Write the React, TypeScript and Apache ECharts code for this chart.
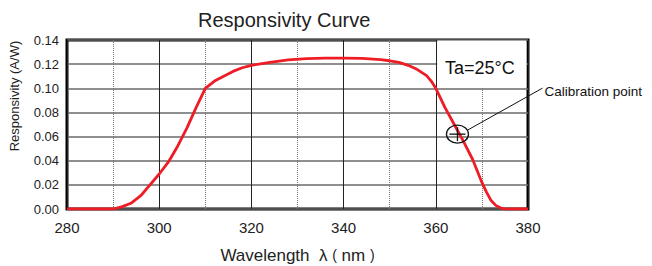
import React, { useEffect, useRef } from "react";
import * as echarts from "echarts";

const wavelengths = [
  280, 285, 290, 292, 294, 296, 298, 300, 302, 304, 306, 308, 310,
  312, 314, 316, 318, 320, 324, 328, 332, 336, 340, 344, 348, 350,
  352, 354, 356, 358, 359, 360, 362, 364, 366, 368, 370, 371, 372, 373, 374, 375, 380,
];
const responsivity = [
  0, 0, 0, 0.002, 0.005, 0.011, 0.02, 0.029, 0.039, 0.052, 0.067, 0.084, 0.1,
  0.106, 0.11, 0.114, 0.117, 0.119, 0.1215, 0.1235, 0.1245, 0.125, 0.125, 0.1247, 0.1238, 0.1228,
  0.1215, 0.119, 0.1155, 0.1105, 0.106, 0.1, 0.084, 0.07, 0.056, 0.041, 0.022, 0.014, 0.007, 0.003, 0.001, 0, 0,
];
const calibrationPoint = [364.7, 0.062];
const xTicks = [280, 300, 320, 340, 360, 380];
const yTicks = [0, 0.02, 0.04, 0.06, 0.08, 0.1, 0.12, 0.14];
const titleText = "Responsivity Curve";
const xName = "Wavelength  λ {p|(} nm {p|)}";
const yName = "Responsivity (A/W)";
const tempLabel = "Ta=25°C";
const calibLabel = "Calibration point";

const FONT = "Liberation Sans, Arial, sans-serif";

export default function App() {
  const ref = useRef<HTMLDivElement>(null);
  useEffect(() => {
    if (!ref.current) return;
    const chart = echarts.init(ref.current, undefined, { renderer: "svg" });
    const lineData = wavelengths.map((w, i) => [w, responsivity[i]]);
    chart.setOption({
      animation: false,
      backgroundColor: "#fff",
      title: {
        text: titleText,
        left: 193,
        top: 5,
        textStyle: { fontFamily: FONT, fontSize: 20, fontWeight: "normal", color: "#222" },
      },
      grid: {
        left: 67,
        right: 124,
        top: 40,
        bottom: 57,
        containLabel: false,
        outerBoundsMode: "none",
        show: true,
        borderColor: "#000",
        borderWidth: 3,
        backgroundColor: "transparent",
      },
      xAxis: {
        type: "value",
        min: xTicks[0],
        max: xTicks[xTicks.length - 1],
        interval: 20,
        name: xName,
        nameLocation: "middle",
        nameGap: 37,
        nameTextStyle: {
          fontFamily: FONT,
          fontSize: 17,
          lineHeight: 18,
          color: "#222",
          rich: { p: { fontFamily: FONT, fontSize: 14, lineHeight: 18, color: "#222" } },
        },
        axisLine: { show: false },
        axisTick: { show: false },
        axisLabel: { fontFamily: FONT, fontSize: 15, color: "#222", margin: 11 },
        splitLine: { show: true, lineStyle: { color: "#222", width: 1 } },
        minorTick: { show: false, splitNumber: 2 },
        minorSplitLine: { show: true, lineStyle: { color: "#777", width: 1, type: "dotted" } },
      },
      yAxis: {
        type: "value",
        min: yTicks[0],
        max: yTicks[yTicks.length - 1],
        interval: 0.02,
        axisLine: { show: false },
        axisTick: { show: false },
        axisLabel: {
          fontFamily: FONT,
          fontSize: 13,
          color: "#222",
          margin: 8,
          formatter: (v: number) => v.toFixed(2),
        },
        splitLine: { show: true, lineStyle: { color: "#6a6a6a", width: 1.5 } },
      },
      graphic: [
        {
          type: "text",
          x: 14,
          y: 96,
          rotation: Math.PI / 2,
          style: {
            text: yName,
            fontFamily: FONT,
            fontSize: 13,
            fill: "#222",
            align: "center",
            verticalAlign: "middle",
          },
        },
      ],
      series: [
        {
          type: "line",
          data: lineData,
          symbol: "none",
          lineStyle: { color: "#ee1c25", width: 2.8 },
          z: 3,
          markArea: {
            silent: true,
            itemStyle: { color: "#fff", opacity: 1 },
            label: {
              show: true,
              position: "inside",
              fontFamily: FONT,
              fontSize: 18,
              color: "#111",
              offset: [-2, 4],
            },
            data: [
              [
                { name: tempLabel, coord: [360.3, 0.1396] },
                { coord: [379.65, 0.1008] },
              ],
            ],
          },
        },
        {
          type: "custom",
          clip: false,
          z: 5,
          data: [calibrationPoint],
          renderItem: (params: any, api: any) => {
            const p = api.coord([api.value(0), api.value(1)]);
            const stroke = { stroke: "#111", lineWidth: 1.3, fill: "none" };
            return {
              type: "group",
              children: [
                { type: "ellipse", shape: { cx: p[0], cy: p[1], rx: 11, ry: 9 }, style: { ...stroke } },
                { type: "line", shape: { x1: p[0] - 8, y1: p[1], x2: p[0] + 8, y2: p[1] }, style: { ...stroke } },
                { type: "line", shape: { x1: p[0], y1: p[1] - 7, x2: p[0], y2: p[1] + 7 }, style: { ...stroke } },
                { type: "line", shape: { x1: p[0] + 10, y1: p[1] - 4, x2: p[0] + 85, y2: p[1] - 46 }, style: { stroke: "#111", lineWidth: 1 } },
                {
                  type: "text",
                  x: p[0] + 87,
                  y: p[1] - 43,
                  style: {
                    text: calibLabel,
                    fontFamily: FONT,
                    fontSize: 13.5,
                    fill: "#111",
                    verticalAlign: "middle",
                    align: "left",
                  },
                },
              ],
            };
          },
        },
      ],
    });
    return () => chart.dispose();
  }, []);
  return <div ref={ref} style={{ width: 652, height: 266, position: "absolute", left: 0, top: 0 }} />;
}
